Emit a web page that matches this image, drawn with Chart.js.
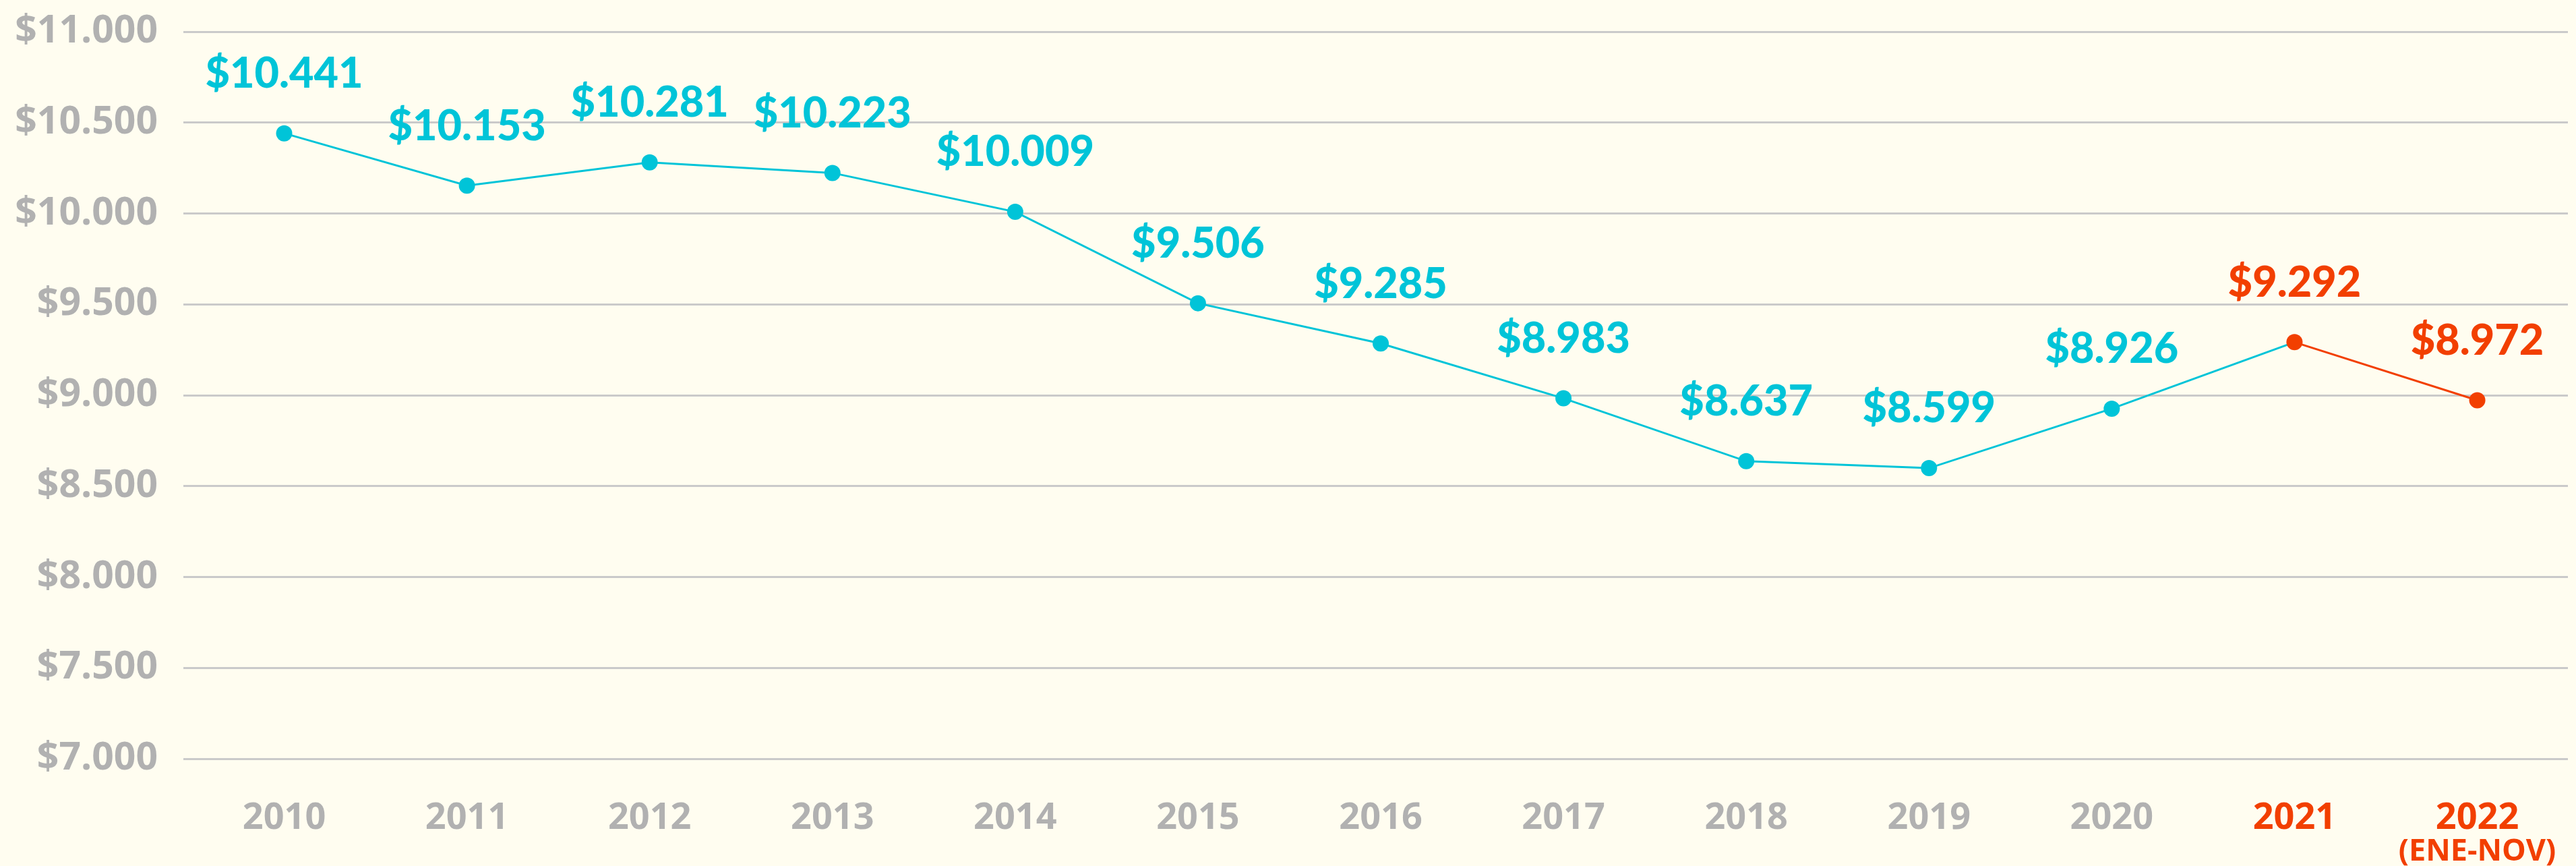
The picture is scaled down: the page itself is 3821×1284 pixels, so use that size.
<!DOCTYPE html>
<html>
<head>
<meta charset="utf-8">
<script src="https://cdn.jsdelivr.net/npm/chart.js@4/dist/chart.umd.min.js"></script>
<style>
  html, body { margin: 0; padding: 0; background: #fffdf0; overflow: hidden; }
  #wrap { width: 3821px; height: 1284px; position: relative; }
</style>
</head>
<body>
<div id="wrap"><canvas id="costChart"></canvas></div>
<script>
// datos del gráfico
const years = ['2010', '2011', '2012', '2013', '2014', '2015', '2016', '2017', '2018', '2019', '2020', '2021', '2022'];
const values = [10441, 10153, 10281, 10223, 10009, 9506, 9285, 8983, 8637, 8599, 8926, 9292, 8972];
const subLabels = ['', '', '', '', '', '', '', '', '', '', '', '', '(ENE-NOV)'];
const yTicks = [7000, 7500, 8000, 8500, 9000, 9500, 10000, 10500, 11000];

const cyan = '#00c4d8';
const red = '#f23f00';
const gray = '#b1b1b1';
const HIGHLIGHT_FROM = 11; // 2021 en adelante en rojo

const money = v => '$' + String(v).replace(/\B(?=(\d{3})+(?!\d))/g, '.');

// etiquetas de valor sobre cada punto
const valueLabels = {
    id: 'valueLabels',
    afterDatasetsDraw(chart) {
        const c = chart.ctx;
        const meta = chart.getDatasetMeta(0);
        c.save();
        c.font = '900 63px Lato, "DejaVu Sans", sans-serif';
        c.textAlign = 'center';
        c.textBaseline = 'middle';
        meta.data.forEach((pt, i) => {
            const txt = money(values[i]);
            const w = c.measureText(txt).width;
            let x = Math.min(pt.x, chart.width - w / 2 - 4);
            c.fillStyle = i >= HIGHLIGHT_FROM ? red : cyan;
            c.fillText(txt, x, pt.y - 88);
        });
        c.restore();
    }
};

// segunda línea pequeña bajo el año
const subTickLabels = {
    id: 'subTickLabels',
    afterDraw(chart) {
        const c = chart.ctx;
        const xs = chart.scales.x;
        c.save();
        c.font = '700 45px "Open Sans", sans-serif';
        c.textAlign = 'center';
        c.textBaseline = 'middle';
        c.fillStyle = red;
        subLabels.forEach((t, i) => {
            if (t) c.fillText(t, xs.getPixelForValue(i), 1263);
        });
        c.restore();
    }
};

const ctx = document.getElementById('costChart').getContext('2d');
new Chart(ctx, {
    type: 'line',
    data: {
        datasets: [{
            data: values.map((v, i) => ({ x: i, y: v })),
            borderColor: cyan,
            borderWidth: 3,
            pointRadius: 12,
            pointHoverRadius: 12,
            pointBorderWidth: 0,
            pointBackgroundColor: values.map((v, i) => i >= HIGHLIGHT_FROM ? red : cyan),
            segment: {
                borderColor: s => s.p1DataIndex > HIGHLIGHT_FROM ? red : cyan
            },
            tension: 0
        }]
    },
    options: {
        responsive: true,
        maintainAspectRatio: false,
        animation: false,
        layout: { padding: { top: 47, right: 0, bottom: 0, left: 0 } },
        plugins: {
            legend: { display: false },
            tooltip: { enabled: false }
        },
        scales: {
            x: {
                type: 'linear',
                min: -0.5515,
                max: 12.496,
                grid: { display: false, drawTicks: false },
                border: { display: false },
                afterBuildTicks: s => { s.ticks = years.map((y, i) => ({ value: i })); },
                afterFit: s => { s.height = 159; s.paddingLeft = 0; s.paddingRight = 0; },
                ticks: {
                    padding: 56,
                    maxRotation: 0,
                    autoSkip: false,
                    callback: v => years[v],
                    color: c => c.index >= HIGHLIGHT_FROM ? red : gray,
                    font: { family: '"Open Sans", sans-serif', size: 54, weight: '700' }
                }
            },
            y: {
                min: 7000,
                max: 11000,
                afterBuildTicks: s => { s.ticks = yTicks.map(v => ({ value: v })); },
                afterFit: s => { s.width = 272; s.paddingTop = 0; s.paddingBottom = 0; },
                grid: { color: '#cacaca', lineWidth: 3, drawTicks: false },
                border: { display: false },
                ticks: {
                    padding: 38,
                    color: gray,
                    callback: v => money(v),
                    font: { family: '"Open Sans", sans-serif', size: 57, weight: '700' }
                }
            }
        }
    },
    plugins: [valueLabels, subTickLabels]
});
</script>
</body>
</html>
